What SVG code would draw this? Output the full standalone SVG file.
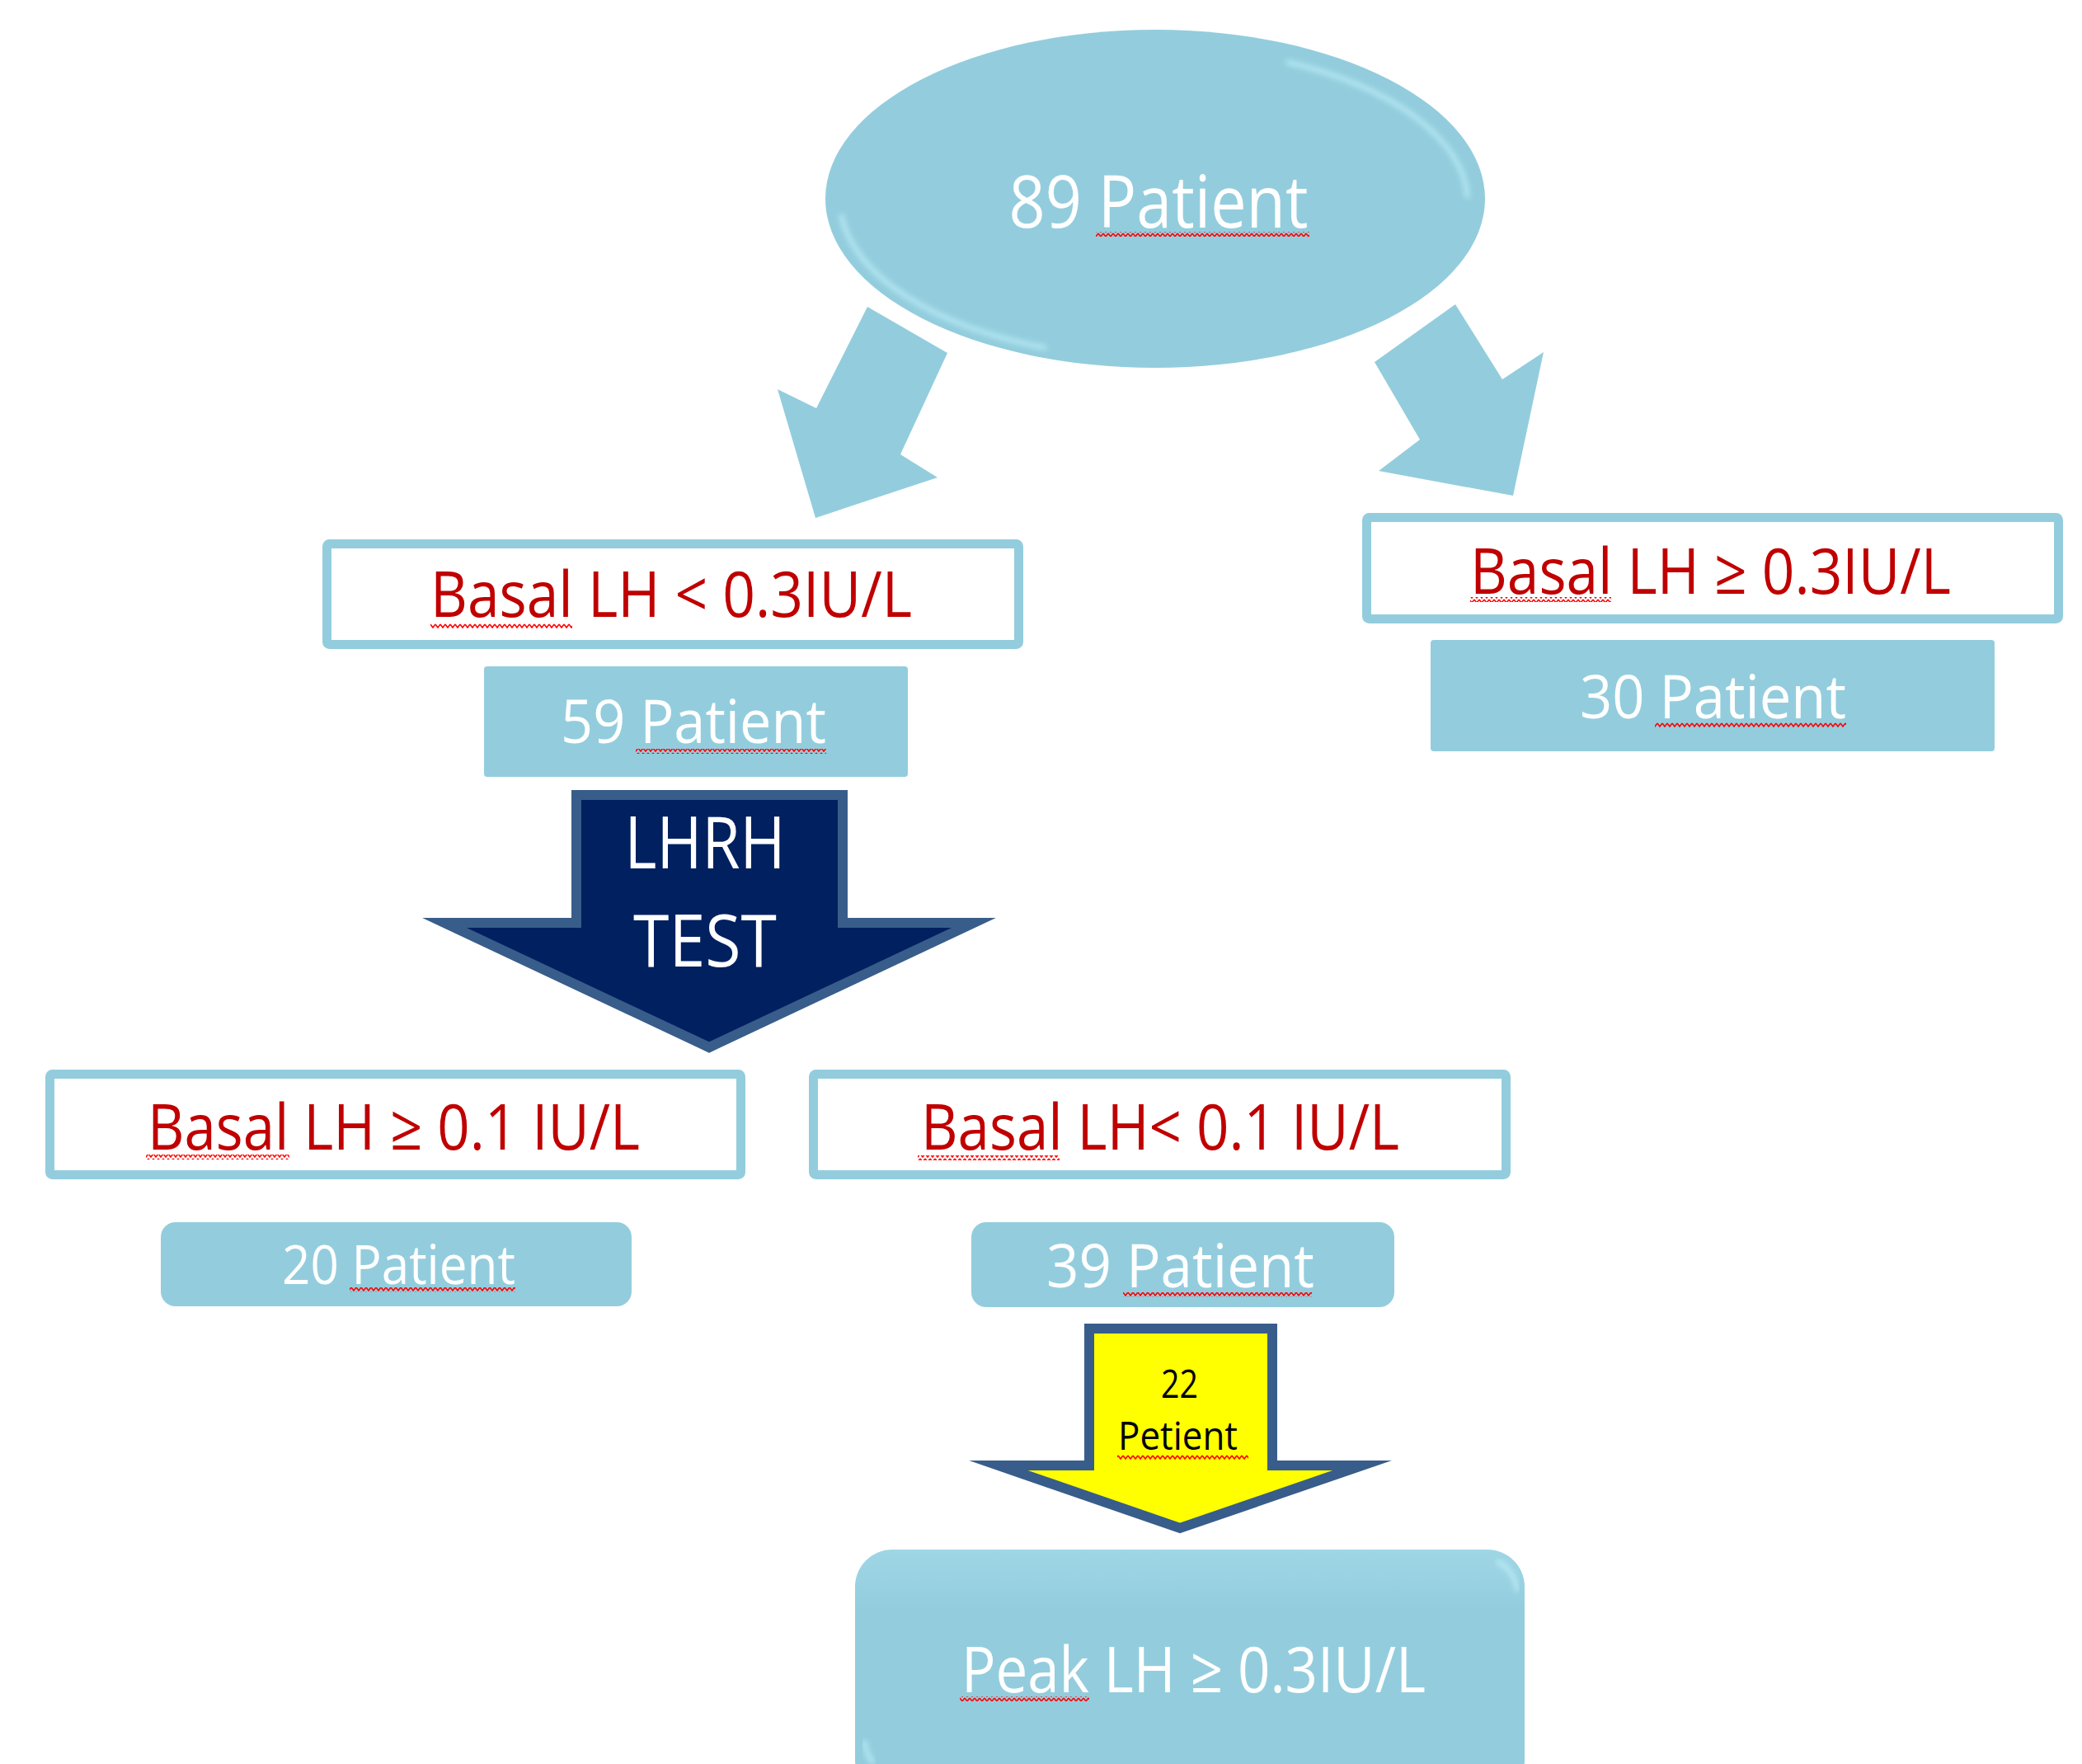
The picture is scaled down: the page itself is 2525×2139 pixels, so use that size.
<svg xmlns="http://www.w3.org/2000/svg" width="2525" height="2139" viewBox="0 0 2525 2139">
<defs>
<style>
.t{font-family:"Open Sans","Liberation Sans",sans-serif;text-anchor:middle}
.w{fill:#ffffff}
.r{fill:#C00000}
.k{fill:#000000}
.frame{fill:#ffffff;stroke:#93CDDD;stroke-width:11}
.fill{fill:#93CDDD}
.blk{stroke:#385D8A;stroke-width:12;stroke-linejoin:miter;stroke-miterlimit:20}
.sq{fill:url(#squig)}
.hl{fill:none;stroke:#C2F1FB;stroke-width:6;opacity:0.7;filter:url(#blur)}
</style>
<pattern id="squig" patternUnits="userSpaceOnUse" width="6" height="6">
<path d="M0,1 L3,5 L6,1" fill="none" stroke="#FF0000" stroke-width="1.6"/>
</pattern>
<filter id="blur" x="-10%" y="-10%" width="120%" height="120%"><feGaussianBlur stdDeviation="3"/></filter>
<linearGradient id="peakg" x1="0" y1="0" x2="0" y2="1">
<stop offset="0" stop-color="#9FD6E6"/>
<stop offset="0.25" stop-color="#93CDDD"/>
<stop offset="1" stop-color="#93CDDD"/>
</linearGradient>
</defs>

<g id="connectors">
<polygon id="arrow-left" class="fill" points="1052,372 1149,428 1092,551 1137,579 989,628 943,472 990,495"/>
<polygon id="arrow-right" class="fill" points="1667,439 1765,369 1822,460 1872,427 1835,601 1672,571 1722,533"/>
</g>

<g id="node-89">
<ellipse cx="1401" cy="241" rx="400" ry="205" fill="#93CDDD"/>
<path class="hl" d="M1560,75 A385,190 0 0,1 1780,240"/>
<path class="hl" d="M1269,422 A387,193 0 0,1 1020,260"/>
<text class="t w" x="1405" y="276" font-size="88" textLength="363" lengthAdjust="spacingAndGlyphs">89 Patient</text>
<rect class="sq" x="1329" y="281" width="259" height="6"/>
</g>

<g id="node-basal-lt03">
<rect class="frame" x="396.5" y="659.5" width="839" height="122" rx="3"/>
<text class="t r" x="814" y="748" font-size="76" textLength="584" lengthAdjust="spacingAndGlyphs">Basal LH &lt; 0.3IU/L</text>
<rect class="sq" x="522" y="756" width="172" height="6"/>
</g>

<g id="node-59">
<rect class="fill" x="587" y="808" width="514" height="134" rx="4"/>
<text class="t w" x="841" y="901" font-size="73" textLength="322" lengthAdjust="spacingAndGlyphs">59 Patient</text>
<rect class="sq" x="771" y="908" width="231" height="6"/>
</g>

<g id="node-lhrh">
<polygon class="blk" fill="#002060" points="699,964 1022,964 1022,1119 1181,1119 860,1270 539,1119 699,1119"/>
<text class="t w" x="855" y="1053" font-size="88" textLength="195" lengthAdjust="spacingAndGlyphs">LHRH</text>
<text class="t w" x="855" y="1172" font-size="88" textLength="174" lengthAdjust="spacingAndGlyphs">TEST</text>
</g>

<g id="node-basal-ge03">
<rect class="frame" x="1657.5" y="627.5" width="839" height="123" rx="3"/>
<text class="t r" x="2074.5" y="720" font-size="76" textLength="583" lengthAdjust="spacingAndGlyphs">Basal LH ≥ 0.3IU/L</text>
<rect class="sq" x="1783" y="724" width="171" height="6"/>
</g>

<g id="node-30">
<rect class="fill" x="1735" y="776" width="684" height="135" rx="4"/>
<text class="t w" x="2077.5" y="871" font-size="73" textLength="323" lengthAdjust="spacingAndGlyphs">30 Patient</text>
<rect class="sq" x="2007" y="876" width="232" height="6"/>
</g>

<g id="node-basal-ge01">
<rect class="frame" x="60.5" y="1302.5" width="838" height="122" rx="3"/>
<text class="t r" x="477.5" y="1394" font-size="76" textLength="597" lengthAdjust="spacingAndGlyphs">Basal LH ≥ 0.1 IU/L</text>
<rect class="sq" x="177" y="1400" width="174" height="6"/>
</g>

<g id="node-basal-lt01">
<rect class="frame" x="986.5" y="1302.5" width="840" height="122" rx="3"/>
<text class="t r" x="1407" y="1394" font-size="76" textLength="580" lengthAdjust="spacingAndGlyphs">Basal LH&lt; 0.1 IU/L</text>
<rect class="sq" x="1113" y="1401" width="172" height="6"/>
</g>

<g id="node-20">
<rect class="fill" x="195" y="1482" width="571" height="102" rx="18"/>
<text class="t w" x="483.5" y="1557" font-size="66" textLength="283" lengthAdjust="spacingAndGlyphs">20 Patient</text>
<rect class="sq" x="424" y="1561" width="201" height="6"/>
</g>

<g id="node-39">
<rect class="fill" x="1178" y="1482" width="513" height="103" rx="18"/>
<text class="t w" x="1431.5" y="1561" font-size="73" textLength="325" lengthAdjust="spacingAndGlyphs">39 Patient</text>
<rect class="sq" x="1362" y="1567" width="229" height="6"/>
</g>

<g id="node-22">
<polygon class="blk" fill="#FFFF00" points="1321,1611 1543,1611 1543,1777 1652,1777 1431,1853 1211,1777 1321,1777"/>
<text class="t k" x="1430.5" y="1695" font-size="48" textLength="45" lengthAdjust="spacingAndGlyphs">22</text>
<text class="t k" x="1428.5" y="1758" font-size="48" textLength="145" lengthAdjust="spacingAndGlyphs">Petient</text>
<rect class="sq" x="1355" y="1764" width="159" height="6"/>
</g>

<g id="node-peak">
<rect x="1037" y="1879" width="812" height="300" rx="45" fill="url(#peakg)"/>
<path class="hl" d="M1815,1893 Q1838,1905 1840,1930" />
<path class="hl" d="M1048,2110 Q1050,2128 1060,2139" />
<text class="t w" x="1447.5" y="2052" font-size="77" textLength="563" lengthAdjust="spacingAndGlyphs">Peak LH ≥ 0.3IU/L</text>
<rect class="sq" x="1164" y="2057" width="157" height="6"/>
</g>
</svg>
